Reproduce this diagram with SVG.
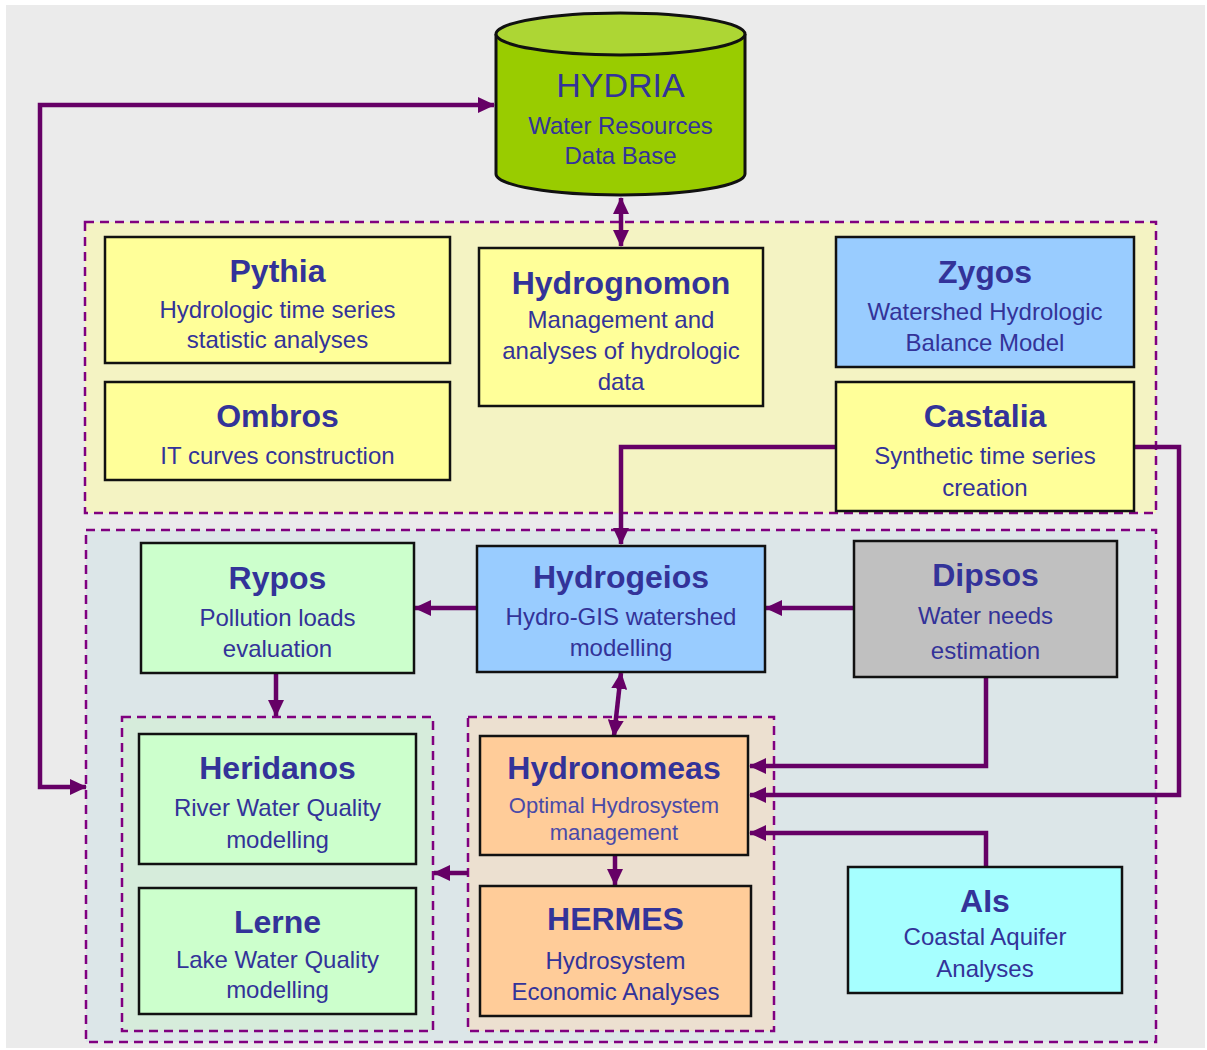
<svg xmlns="http://www.w3.org/2000/svg" width="1207" height="1050" viewBox="0 0 1207 1050">
<style>
.bx{stroke:#111;stroke-width:2.5}
.grp{stroke:#800080;stroke-width:2.5;stroke-dasharray:9 6}
.t{font-family:"Liberation Sans",Arial,sans-serif;fill:#333399;text-anchor:middle}
.ti{font-size:32px;font-weight:bold}
.s{font-size:24px}
.sl{font-size:22px;fill:#4a4aa8}
.c{fill:none;stroke:#660066;stroke-width:4.5}
</style>
<defs>
<marker id="ah" markerUnits="userSpaceOnUse" markerWidth="18" markerHeight="16" refX="16" refY="8" orient="auto-start-reverse" viewBox="0 0 18 16">
<path d="M0,0 L17,8 L0,16 z" fill="#660066"/>
</marker>
</defs>
<rect x="0" y="0" width="1207" height="1050" fill="#ffffff"/>
<rect x="6" y="5" width="1199" height="1043" fill="#ebebeb"/>

<g id="group-top"><rect class="grp" x="85" y="222" width="1071" height="291" fill="#f4f3c3"/></g>
<g id="group-bottom"><rect class="grp" x="86" y="530" width="1070" height="512" fill="#dce6e8"/></g>
<g id="group-quality"><rect class="grp" x="122" y="717" width="311" height="314" fill="#d6ecdb"/></g>
<g id="group-system"><rect class="grp" x="468" y="717" width="306" height="314" fill="#ece0d0"/></g>

<g id="connectors">
<path class="c" d="M86,787 H40 V105 H494" marker-start="url(#ah)" marker-end="url(#ah)"/>
<path class="c" d="M621,246 V198" marker-start="url(#ah)" marker-end="url(#ah)"/>
<path class="c" d="M836,447 H621 V544" marker-end="url(#ah)"/>
<path class="c" d="M1134,447 H1179 V795 H750" marker-end="url(#ah)"/>
<path class="c" d="M477,608 H415" marker-end="url(#ah)"/>
<path class="c" d="M854,608 H766" marker-end="url(#ah)"/>
<path class="c" d="M276,673 V716" marker-end="url(#ah)"/>
<path class="c" d="M621,673 L614,736" marker-start="url(#ah)" marker-end="url(#ah)"/>
<path class="c" d="M986,677 V766 H750" marker-end="url(#ah)"/>
<path class="c" d="M986,867 V833 H750" marker-end="url(#ah)"/>
<path class="c" d="M615,855 V885" marker-end="url(#ah)"/>
<path class="c" d="M468,873 H434" marker-end="url(#ah)"/>
</g>

<g id="hydria">
<path d="M496,34 V174 A124.5,21 0 0 0 745,174 V34" fill="#99cc00" stroke="#111" stroke-width="3"/>
<ellipse cx="620.5" cy="34" rx="124.5" ry="21" fill="#add634" stroke="#111" stroke-width="3"/>
<text class="t" x="620.5" y="97" font-size="34">HYDRIA</text>
<text class="t s" x="620.5" y="134">Water Resources</text>
<text class="t s" x="620.5" y="164">Data Base</text>
</g>

<g id="pythia">
<rect class="bx" x="105" y="237" width="345" height="126" fill="#ffff99"/>
<text class="t ti" x="277.5" y="282">Pythia</text>
<text class="t s" x="277.5" y="318">Hydrologic time series</text>
<text class="t s" x="277.5" y="348">statistic analyses</text>
</g>
<g id="ombros">
<rect class="bx" x="105" y="382" width="345" height="98" fill="#ffff99"/>
<text class="t ti" x="277.5" y="427">Ombros</text>
<text class="t s" x="277.5" y="464">IT curves construction</text>
</g>
<g id="hydrognomon">
<rect class="bx" x="479" y="248" width="284" height="158" fill="#ffff99"/>
<text class="t ti" x="621" y="294">Hydrognomon</text>
<text class="t s" x="621" y="328">Management and</text>
<text class="t s" x="621" y="359">analyses of hydrologic</text>
<text class="t s" x="621" y="390">data</text>
</g>
<g id="zygos">
<rect class="bx" x="836" y="237" width="298" height="130" fill="#99ccff"/>
<text class="t ti" x="985" y="283">Zygos</text>
<text class="t s" x="985" y="320">Watershed Hydrologic</text>
<text class="t s" x="985" y="351">Balance Model</text>
</g>
<g id="castalia">
<rect class="bx" x="836" y="382" width="298" height="129" fill="#ffff99"/>
<text class="t ti" x="985" y="427">Castalia</text>
<text class="t s" x="985" y="464">Synthetic time series</text>
<text class="t s" x="985" y="496">creation</text>
</g>
<g id="rypos">
<rect class="bx" x="141" y="543" width="273" height="130" fill="#ccffcc"/>
<text class="t ti" x="277.5" y="589">Rypos</text>
<text class="t s" x="277.5" y="626">Pollution loads</text>
<text class="t s" x="277.5" y="657">evaluation</text>
</g>
<g id="hydrogeios">
<rect class="bx" x="477" y="546" width="288" height="126" fill="#99ccff"/>
<text class="t ti" x="621" y="588">Hydrogeios</text>
<text class="t s" x="621" y="625">Hydro-GIS watershed</text>
<text class="t s" x="621" y="656">modelling</text>
</g>
<g id="dipsos">
<rect class="bx" x="854" y="541" width="263" height="136" fill="#c0c0c0"/>
<text class="t ti" x="985.5" y="586">Dipsos</text>
<text class="t s" x="985.5" y="624">Water needs</text>
<text class="t s" x="985.5" y="659">estimation</text>
</g>
<g id="heridanos">
<rect class="bx" x="139" y="734" width="277" height="130" fill="#ccffcc"/>
<text class="t ti" x="277.5" y="779">Heridanos</text>
<text class="t s" x="277.5" y="816">River Water Quality</text>
<text class="t s" x="277.5" y="848">modelling</text>
</g>
<g id="lerne">
<rect class="bx" x="139" y="888" width="277" height="126" fill="#ccffcc"/>
<text class="t ti" x="277.5" y="933">Lerne</text>
<text class="t s" x="277.5" y="968">Lake Water Quality</text>
<text class="t s" x="277.5" y="998">modelling</text>
</g>
<g id="hydronomeas">
<rect class="bx" x="480" y="736" width="268" height="119" fill="#ffcc99"/>
<text class="t ti" x="614" y="779">Hydronomeas</text>
<text class="t sl" x="614" y="813">Optimal Hydrosystem</text>
<text class="t sl" x="614" y="840">management</text>
</g>
<g id="hermes">
<rect class="bx" x="480" y="886" width="271" height="130" fill="#ffcc99"/>
<text class="t ti" x="615.5" y="930">HERMES</text>
<text class="t s" x="615.5" y="969">Hydrosystem</text>
<text class="t s" x="615.5" y="1000">Economic Analyses</text>
</g>
<g id="ais">
<rect class="bx" x="848" y="867" width="274" height="126" fill="#a6ffff"/>
<text class="t ti" x="985" y="912">AIs</text>
<text class="t s" x="985" y="945">Coastal Aquifer</text>
<text class="t s" x="985" y="977">Analyses</text>
</g>
</svg>
